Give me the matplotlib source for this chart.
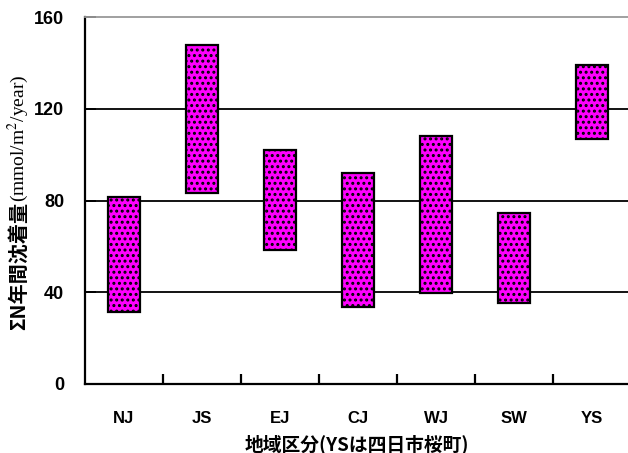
import matplotlib
matplotlib.use("Agg")
import matplotlib.pyplot as plt
import numpy as np

# Annual total nitrogen deposition range per region
regions = ["NJ", "JS", "EJ", "CJ", "WJ", "SW", "YS"]
low = [31.5, 83.3, 58.5, 33.7, 39.8, 35.5, 106.8]
high = [81.7, 147.9, 102.1, 91.9, 108.2, 74.5, 139.2]
yticks = [0, 40, 80, 120, 160]

plt.rcParams["hatch.linewidth"] = 1.4

W, H = 628, 453
fig = plt.figure(figsize=(W / 100, H / 100), dpi=100)
ax = fig.add_axes([85 / W, 1 - 384 / H, (631 - 85) / W, (384 - 17.3) / H])

x = np.arange(len(regions))
heights = np.array(high) - np.array(low)
ax.bar(x, heights, bottom=low, width=0.41, color="#FF00FF",
       edgecolor="black", linewidth=1.6, hatch="...", zorder=3)

ax.set_xlim(-0.5, len(regions) - 0.5)
ax.set_ylim(0, 160)

# horizontal grid
for v in yticks[1:-1]:
    ax.axhline(v, color="black", lw=1.3, zorder=1)

ax.spines["right"].set_visible(False)
ax.spines["top"].set_color("#999999")
ax.spines["top"].set_linewidth(1.3)
ax.spines["left"].set_linewidth(1.6)
ax.spines["bottom"].set_linewidth(1.6)

ax.set_yticks(yticks)
ax.set_yticklabels([str(v) for v in yticks], fontsize=13,
                   fontweight="bold", family="Liberation Sans")
ax.tick_params(axis="y", direction="in", length=8, width=1.3, pad=15)

ax.set_xticks(np.arange(len(regions) - 1) + 0.5, minor=False)
ax.set_xticklabels([])
ax.tick_params(axis="x", direction="in", length=7, width=1.6)
for i, r in enumerate(regions):
    ax.text(i, -0.095, r, transform=ax.get_xaxis_transform(), ha="center",
            va="center", fontsize=12, fontweight="bold",
            family="Liberation Sans")

fig.text(357 / W, 1 - 444 / H, "地域区分(YSは四日市桜町)", ha="center",
         va="center", fontsize=13.5, fontweight="bold",
         family=["Noto Sans CJK JP", "DejaVu Sans"])

# y-axis label: gothic part followed by serif unit part
jp = fig.text(18 / W, 1 - 330 / H, "ΣN年間沈着量", rotation=90,
              ha="center", va="bottom", fontsize=14.5, fontweight="bold",
              family=["Noto Sans CJK JP", "DejaVu Sans"])
fig.canvas.draw()
bb = jp.get_window_extent()
fig.text(18 / W, bb.y1 / H, "(mmol/m$^2$/year)", rotation=90,
         ha="center", va="bottom", fontsize=14, family="Liberation Serif",
         math_fontfamily="stix")

fig.savefig("out.png", dpi=100)
